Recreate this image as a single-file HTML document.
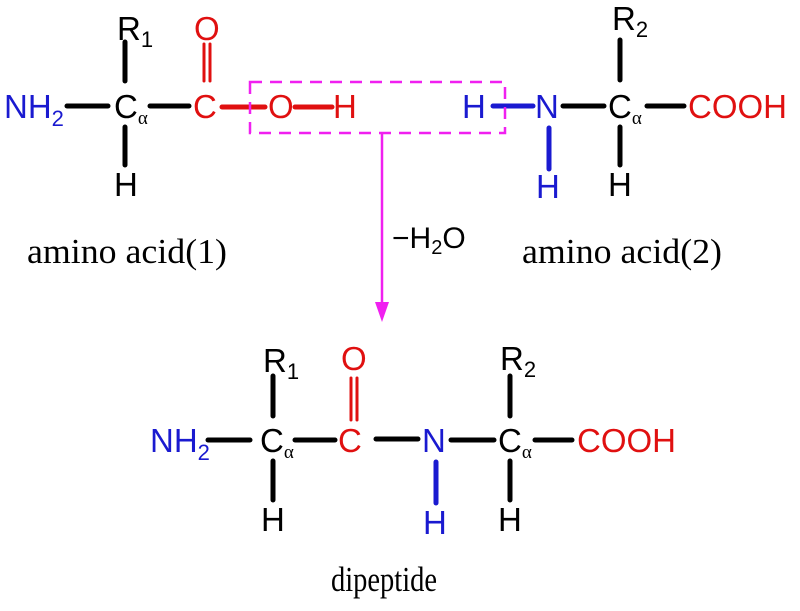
<!DOCTYPE html>
<html><head><meta charset="utf-8"><style>
html,body{margin:0;padding:0;background:#fff;}
svg{display:block;}
.s{font-family:"Liberation Sans",sans-serif;font-size:33px;}
.sub{font-size:22px;}
.a{font-family:"Liberation Serif",serif;font-size:19px;}
.t{font-family:"Liberation Serif",serif;font-size:35px;}
</style></head><body>
<svg width="800" height="611" viewBox="0 0 800 611">
<g class="s">
<text x="4" y="118" fill="#1a1ad0">NH<tspan class="sub" dy="8">2</tspan></text>
<text x="114" y="118">C<tspan class="a" dy="6">α</tspan></text>
<text x="117" y="40">R<tspan class="sub" dy="7">1</tspan></text>
<text x="114" y="196">H</text>
<text x="193" y="118" fill="#e01010">C</text>
<text x="194" y="40" fill="#e01010">O</text>
<text x="268" y="118" fill="#e01010">O</text>
<text x="333" y="118" fill="#e01010">H</text>
<text x="462" y="118" fill="#1a1ad0">H</text>
<text x="535" y="118" fill="#1a1ad0">N</text>
<text x="536" y="198" fill="#1a1ad0">H</text>
<text x="608" y="118">C<tspan class="a" dy="6">α</tspan></text>
<text x="612" y="30">R<tspan class="sub" dy="7">2</tspan></text>
<text x="608" y="196">H</text>
<text x="688" y="118" fill="#e01010">COOH</text>
<text x="392" y="248" style="font-size:30px">−H<tspan style="font-size:20px" dy="6">2</tspan><tspan dy="-6">O</tspan></text>
<text x="150" y="452" fill="#1a1ad0">NH<tspan class="sub" dy="8">2</tspan></text>
<text x="260" y="452">C<tspan class="a" dy="6">α</tspan></text>
<text x="263" y="372">R<tspan class="sub" dy="7">1</tspan></text>
<text x="261" y="531">H</text>
<text x="338" y="452" fill="#e01010">C</text>
<text x="341" y="370" fill="#e01010">O</text>
<text x="422" y="452" fill="#1a1ad0">N</text>
<text x="423" y="534" fill="#1a1ad0">H</text>
<text x="498" y="452">C<tspan class="a" dy="6">α</tspan></text>
<text x="500" y="370">R<tspan class="sub" dy="7">2</tspan></text>
<text x="498" y="531">H</text>
<text x="577" y="452" fill="#e01010">COOH</text>
</g>
<g class="t">
<text x="27" y="263" textLength="200" lengthAdjust="spacingAndGlyphs">amino acid(1)</text>
<text x="522" y="263" textLength="200" lengthAdjust="spacingAndGlyphs">amino acid(2)</text>
<text x="331" y="591" textLength="106" lengthAdjust="spacingAndGlyphs">dipeptide</text>
</g>
<g stroke-width="5" stroke-linecap="round">
<line x1="67" y1="106" x2="108" y2="106" stroke="#000"/>
<line x1="150" y1="106" x2="189" y2="106" stroke="#000"/>
<line x1="125" y1="42" x2="125" y2="81" stroke="#000"/>
<line x1="125" y1="127" x2="125" y2="165" stroke="#000"/>
<line x1="222" y1="107" x2="265" y2="107" stroke="#e01010"/>
<line x1="295" y1="107" x2="332" y2="107" stroke="#e01010"/>
<line x1="204" y1="44" x2="204" y2="81" stroke="#e01010" stroke-width="3"/>
<line x1="210" y1="44" x2="210" y2="81" stroke="#e01010" stroke-width="3"/>
<line x1="493" y1="106" x2="533" y2="106" stroke="#1a1ad0"/>
<line x1="563" y1="106" x2="604" y2="106" stroke="#000"/>
<line x1="647" y1="106" x2="684" y2="106" stroke="#000"/>
<line x1="620" y1="40" x2="620" y2="80" stroke="#000"/>
<line x1="620" y1="127" x2="620" y2="165" stroke="#000"/>
<line x1="549" y1="128" x2="549" y2="169" stroke="#1a1ad0"/>
<line x1="208" y1="440" x2="250" y2="440" stroke="#000"/>
<line x1="295" y1="440" x2="335" y2="440" stroke="#000"/>
<line x1="376" y1="439" x2="418" y2="439" stroke="#000"/>
<line x1="451" y1="440" x2="494" y2="440" stroke="#000"/>
<line x1="535" y1="440" x2="572" y2="440" stroke="#000"/>
<line x1="273" y1="376" x2="273" y2="416" stroke="#000"/>
<line x1="273" y1="461" x2="273" y2="500" stroke="#000"/>
<line x1="510" y1="376" x2="510" y2="416" stroke="#000"/>
<line x1="510" y1="461" x2="510" y2="500" stroke="#000"/>
<line x1="436" y1="462" x2="436" y2="503" stroke="#1a1ad0"/>
<line x1="351" y1="378" x2="351" y2="420" stroke="#e01010" stroke-width="3"/>
<line x1="357" y1="378" x2="357" y2="420" stroke="#e01010" stroke-width="3"/>
</g>
<rect x="250" y="82" width="255" height="51" fill="none" stroke="#f020f0" stroke-width="2.5" stroke-dasharray="12,8"/>
<line x1="382" y1="133" x2="382" y2="305" stroke="#f020f0" stroke-width="2.5"/>
<polygon points="375,302 389,302 382,322" fill="#f020f0"/>
</svg>
</body></html>
